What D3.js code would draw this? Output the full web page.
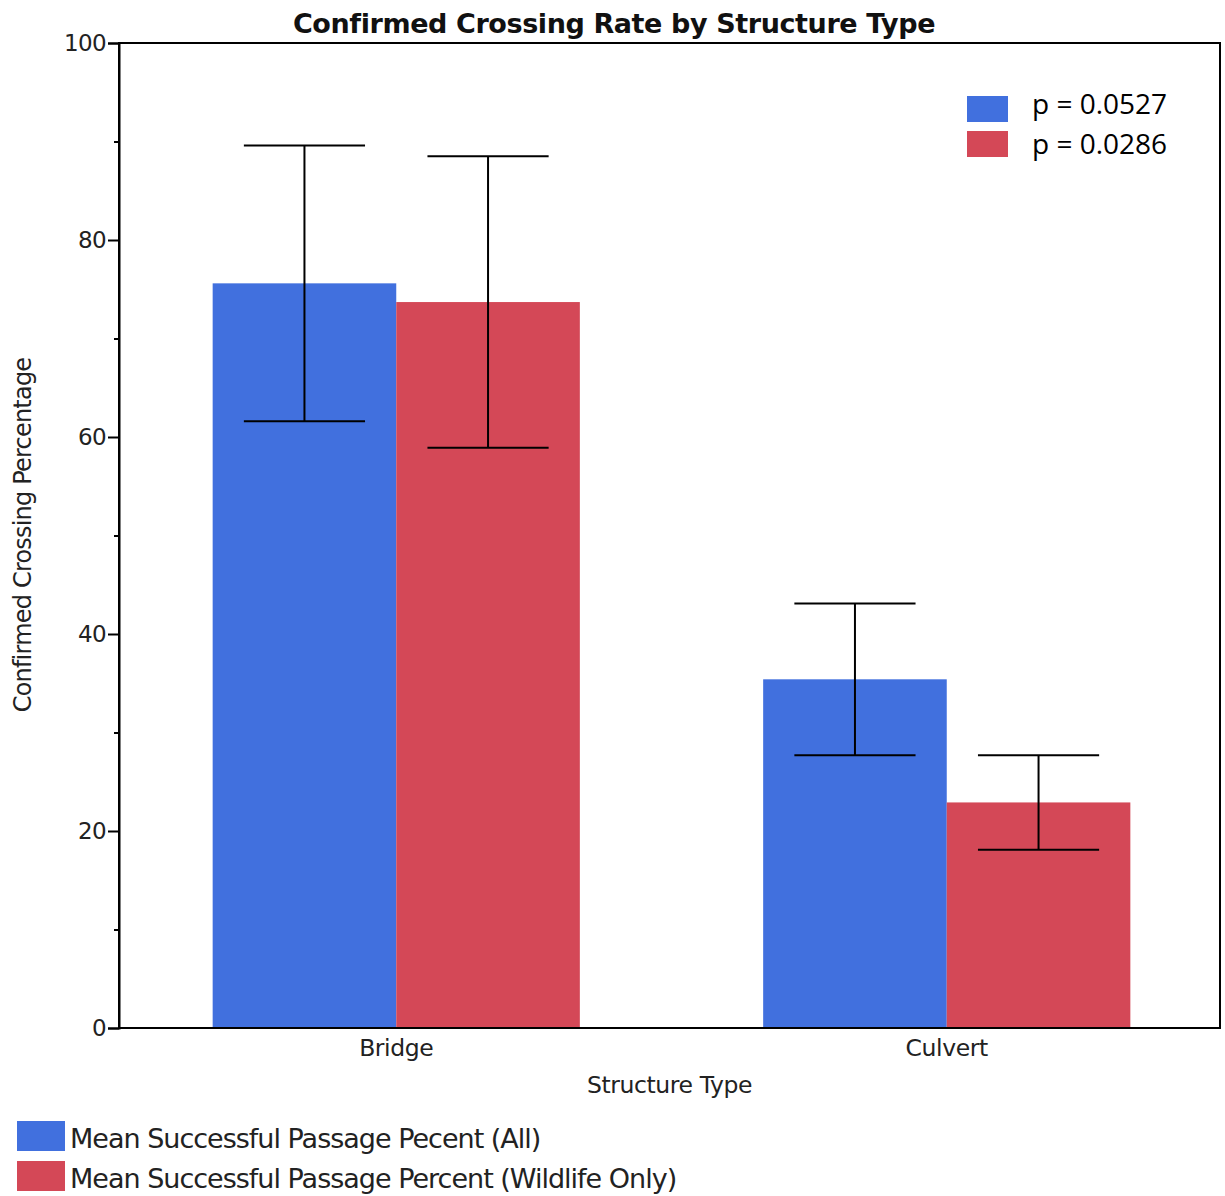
<!DOCTYPE html>
<html><head><meta charset="utf-8">
<script src="https://cdn.jsdelivr.net/npm/d3@7"></script>
<style>body{margin:0;background:#fff}</style>
</head><body>
<script>
const categories = ["Bridge", "Culvert"];
const seriesNames = ["Mean Successful Passage Pecent (All)", "Mean Successful Passage Percent (Wildlife Only)"];
const pLabels = ["p = 0.0527", "p = 0.0286"];
const allValues = [75.6, 35.4];
const allErr = [14.0, 7.7];
const wildValues = [73.7, 22.9];
const wildErr = [14.8, 4.8];
const yTicks = [0, 20, 40, 60, 80, 100];
const yMinorTicks = [10, 30, 50, 70, 90];
const colors = ["#4170de", "#d44857"];

const W = 1225, H = 1196;
const m = {left: 119, top: 43, right: 1220, bottom: 1028};
const FONT = "'DejaVu Sans', Verdana, sans-serif";
const svg = d3.select("body").append("svg").attr("width", W).attr("height", H);

const x = d3.scaleBand().domain(categories).range([m.left + 2, m.right + 2]).padding(0);
const groupW = x.bandwidth() * 0.667;
const xs = d3.scaleBand().domain([0, 1]).range([0, groupW]);
const y = d3.scaleLinear().domain([0, 100]).range([m.bottom, m.top]);

const series = [allValues, wildValues];
const errs = [allErr, wildErr];
const data = [];
categories.forEach((c, i) => series.forEach((s, j) => data.push({c, j, v: s[i], e: errs[j][i]})));

const gx = d => x(d.c) + (x.bandwidth() - groupW) / 2 + xs(d.j);

svg.selectAll("rect.bar").data(data).enter().append("rect")
  .attr("x", d => gx(d)).attr("width", xs.bandwidth())
  .attr("y", d => y(d.v)).attr("height", d => y(0) - y(d.v))
  .attr("fill", d => colors[d.j]);

// error bars
const capW = xs.bandwidth() * 0.66;
const eg = svg.selectAll("g.err").data(data).enter().append("g").attr("stroke", "#000").attr("stroke-width", 2);
const cx = d => gx(d) + xs.bandwidth() / 2;
eg.append("line").attr("x1", cx).attr("x2", cx)
  .attr("y1", d => y(d.v + d.e)).attr("y2", d => y(d.v - d.e));
eg.append("line").attr("x1", d => cx(d) - capW / 2).attr("x2", d => cx(d) + capW / 2)
  .attr("y1", d => y(d.v + d.e)).attr("y2", d => y(d.v + d.e));
eg.append("line").attr("x1", d => cx(d) - capW / 2).attr("x2", d => cx(d) + capW / 2)
  .attr("y1", d => y(d.v - d.e)).attr("y2", d => y(d.v - d.e));

// frame
svg.append("rect").attr("x", m.left).attr("y", m.top).attr("width", m.right - m.left).attr("height", m.bottom - m.top)
  .attr("fill", "none").attr("stroke", "#000").attr("stroke-width", 2);

// y axis
const yAxis = d3.axisLeft(y).tickValues(yTicks).tickSize(11).tickPadding(2);
const ga = svg.append("g").attr("transform", `translate(${m.left},0)`).call(yAxis);
ga.select(".domain").attr("stroke-width", 2);
ga.selectAll(".tick line").attr("stroke-width", 2);
ga.selectAll(".tick text").attr("font-family", FONT).attr("font-size", 23).attr("letter-spacing", -0.6).attr("fill", "#222");
const gm = svg.append("g").attr("transform", `translate(${m.left},0)`).call(d3.axisLeft(y).tickValues(yMinorTicks).tickSize(5).tickFormat(""));
gm.select(".domain").remove();
gm.selectAll(".tick line").attr("stroke-width", 2);

// x axis labels
const gxAxis = svg.append("g").attr("transform", `translate(0,${m.bottom})`).call(d3.axisBottom(x).tickSize(0).tickPadding(11));
gxAxis.select(".domain").remove();
gxAxis.selectAll(".tick text").attr("font-family", FONT).attr("font-size", 23.5).attr("letter-spacing", -0.4).attr("fill", "#222");

// titles
svg.append("text").attr("x", 614).attr("y", 33).attr("text-anchor", "middle")
  .attr("font-family", FONT).attr("font-weight", "bold").attr("font-size", 27).attr("letter-spacing", -0.4).attr("fill", "#111")
  .text("Confirmed Crossing Rate by Structure Type");
svg.append("text").attr("x", (m.left + m.right) / 2).attr("y", 1093).attr("text-anchor", "middle")
  .attr("font-family", FONT).attr("font-size", 23.5).attr("letter-spacing", -0.4).attr("fill", "#222")
  .text("Structure Type");
svg.append("text").attr("transform", `translate(31,535) rotate(-90)`).attr("text-anchor", "middle")
  .attr("font-family", FONT).attr("font-size", 24).attr("letter-spacing", -0.8).attr("fill", "#222")
  .text("Confirmed Crossing Percentage");

// p legend
pLabels.forEach((t, i) => {
  svg.append("rect").attr("x", 967).attr("y", 96 + i * 35).attr("width", 41).attr("height", 26).attr("fill", colors[i]);
  svg.append("text").attr("x", 1032).attr("y", 114 + i * 40).attr("font-family", "'Open Sans', sans-serif").attr("font-size", 28).attr("fill", "#000").text(t);
});

// bottom legend
seriesNames.forEach((t, i) => {
  svg.append("rect").attr("x", 17).attr("y", 1121 + i * 40).attr("width", 48).attr("height", 30).attr("fill", colors[i]);
  svg.append("text").attr("x", 70).attr("y", 1148 + i * 40).attr("font-family", FONT).attr("font-size", 27).attr("letter-spacing", -1).attr("fill", "#222").text(t);
});
</script>
</body></html>
